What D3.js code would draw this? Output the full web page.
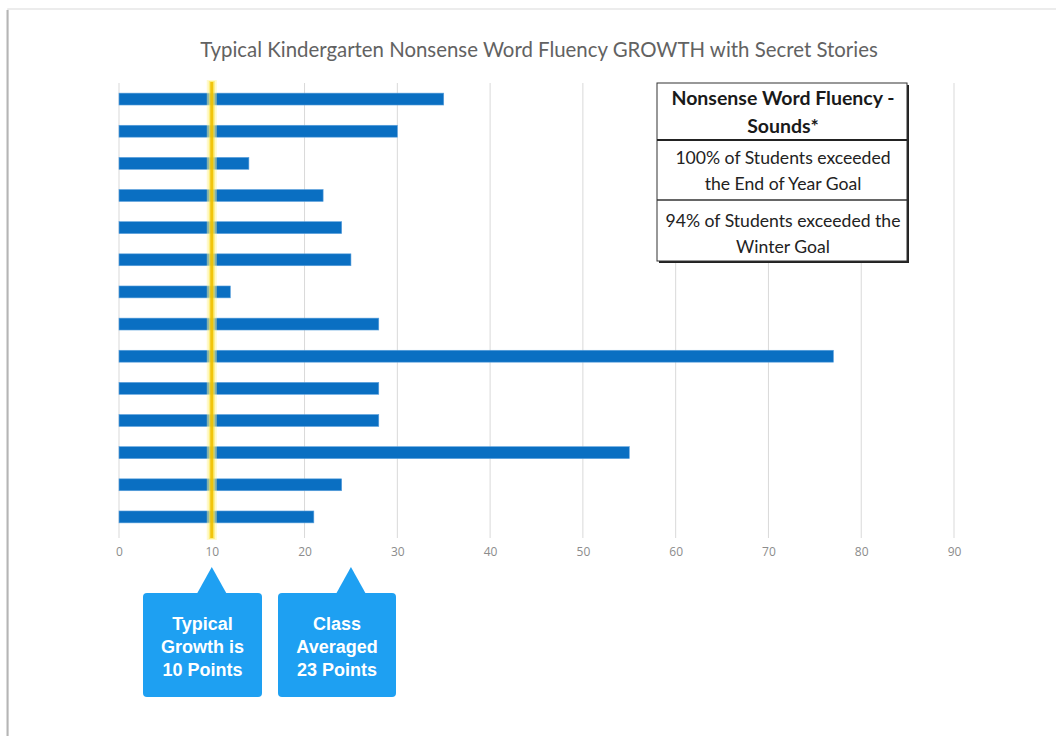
<!DOCTYPE html>
<html>
<head>
<meta charset="utf-8">
<script src="https://cdn.jsdelivr.net/npm/d3@7"></script>
<style>
  body { margin: 0; background: #fff; }
  svg { display: block; }
</style>
</head>
<body>
<svg id="chart"></svg>
<script>
// data
const students = ["S1","S2","S3","S4","S5","S6","S7","S8","S9","S10","S11","S12","S13","S14"];
const growth = [35, 30, 14, 22, 24, 25, 12, 28, 77, 28, 28, 55, 24, 21];
const xTicks = [0, 10, 20, 30, 40, 50, 60, 70, 80, 90];
const typicalGrowth = 10;
const classAverage = 23;
const titleText = "Typical Kindergarten Nonsense Word Fluency GROWTH with Secret Stories";
const tableHeader = ["Nonsense Word Fluency -", "Sounds*"];
const tableRows = [
  ["100% of Students exceeded", "the End of Year Goal"],
  ["94% of Students exceeded the", "Winter Goal"]
];
const calloutTexts = [
  ["Typical", "Growth is", "10 Points"],
  ["Class", "Averaged", "23 Points"]
];

const dimensions = {
  width: 1056,
  height: 736
};

var svg = d3.select("#chart")
  .attr("width", dimensions.width)
  .attr("height", dimensions.height);

// page frame (screenshot edge)
svg.append("path")
  .attr("d", "M8,736 L8,9 L1056,9")
  .attr("fill", "none")
  .attr("stroke", "#e6e6e6")
  .attr("stroke-width", 1.5);
svg.append("line")
  .attr("x1", 7.5).attr("x2", 7.5).attr("y1", 10).attr("y2", 736)
  .attr("stroke", "#b5b5b5").attr("stroke-width", 2);

// title
svg.append("text")
  .attr("x", 539)
  .attr("y", 57)
  .attr("text-anchor", "middle")
  .attr("font-family", "Lato, 'Open Sans', sans-serif")
  .attr("font-size", 20.4)
  .attr("fill", "#626262")
  .text(titleText);

var xScale = d3.scaleLinear()
  .domain([0, 90])
  .range([119, 954]);

var yScale = d3.scaleBand()
  .domain(students)
  .range([83, 533])
  .paddingInner(0.63)
  .paddingOuter(0.315);

// gridlines
svg.append("g")
  .selectAll("line")
  .data(xTicks)
  .enter()
  .append("line")
  .attr("x1", d => xScale(d))
  .attr("x2", d => xScale(d))
  .attr("y1", 83)
  .attr("y2", 538)
  .attr("stroke", "#d9d9d9")
  .attr("stroke-width", 1);

// tick labels via axis
var axis = svg.append("g")
  .attr("transform", "translate(0,538)")
  .call(d3.axisBottom(xScale).tickValues(xTicks).tickSize(0).tickPadding(9));
axis.select(".domain").remove();
axis.selectAll("text")
  .attr("font-family", "'Open Sans', sans-serif")
  .attr("font-size", 12)
  .attr("fill", "#8c8c8c");

// bars
svg.append("g")
  .selectAll("rect")
  .data(growth)
  .enter()
  .append("rect")
  .attr("x", xScale(0))
  .attr("y", (d, i) => yScale(students[i]))
  .attr("width", d => xScale(d) - xScale(0))
  .attr("height", yScale.bandwidth())
  .attr("fill", "#0a6fc2")
  .attr("stroke", "#5aa0dc")
  .attr("stroke-width", 0.6);

// typical growth highlight line
var gx = xScale(typicalGrowth);
svg.append("rect")
  .attr("x", gx - 5).attr("y", 80)
  .attr("width", 10).attr("height", 460)
  .attr("fill", "#fff59a").attr("opacity", 0.5);
svg.append("rect")
  .attr("x", gx - 3).attr("y", 81)
  .attr("width", 6).attr("height", 458)
  .attr("fill", "#fbe64a").attr("opacity", 0.6);
svg.append("rect")
  .attr("x", gx - 1.5).attr("y", 82)
  .attr("width", 3).attr("height", 456)
  .attr("fill", "#f0c000").attr("opacity", 0.9);

// info table
var tb = { x: 657, y: 83, w: 250, rows: [83, 140, 200, 261] };
var table = svg.append("g");
table.append("rect")
  .attr("x", tb.x + 2).attr("y", tb.y + 2)
  .attr("width", tb.w).attr("height", tb.rows[3] - tb.y)
  .attr("fill", "#222");
table.append("rect")
  .attr("x", tb.x).attr("y", tb.y)
  .attr("width", tb.w).attr("height", tb.rows[3] - tb.y)
  .attr("fill", "#fff")
  .attr("stroke", "#333")
  .attr("stroke-width", 1);
table.append("line")
  .attr("x1", tb.x).attr("x2", tb.x + tb.w)
  .attr("y1", tb.rows[1]).attr("y2", tb.rows[1])
  .attr("stroke", "#222").attr("stroke-width", 2);
table.append("line")
  .attr("x1", tb.x).attr("x2", tb.x + tb.w)
  .attr("y1", tb.rows[2]).attr("y2", tb.rows[2])
  .attr("stroke", "#333").attr("stroke-width", 1.3);

var cx = tb.x + tb.w / 2 + 1;
table.selectAll("text.h")
  .data(tableHeader)
  .enter()
  .append("text")
  .attr("class", "h")
  .attr("x", cx)
  .attr("y", (d, i) => 105 + i * 28)
  .attr("text-anchor", "middle")
  .attr("font-family", "Lato, 'Open Sans', sans-serif")
  .attr("font-weight", "bold")
  .attr("font-size", 19.5)
  .attr("fill", "#1a1a1a")
  .text(d => d);

tableRows.forEach(function (row, r) {
  table.selectAll("text.r" + r)
    .data(row)
    .enter()
    .append("text")
    .attr("class", "r" + r)
    .attr("x", cx)
    .attr("y", (d, i) => (r === 0 ? 164 : 227) + i * 26)
    .attr("text-anchor", "middle")
    .attr("font-family", "Lato, 'Open Sans', sans-serif")
    .attr("font-size", 17.6)
    .attr("fill", "#222")
    .text(d => d);
});

// callouts under the axis
var callouts = [
  { value: typicalGrowth, x0: 143, x1: 262, lines: calloutTexts[0] },
  { value: 25, x0: 278, x1: 396, lines: calloutTexts[1] }
];
callouts.forEach(function (c) {
  var px = xScale(c.value);
  var g = svg.append("g");
  g.append("rect")
    .attr("x", c.x0).attr("y", 593)
    .attr("width", c.x1 - c.x0).attr("height", 104)
    .attr("rx", 4)
    .attr("fill", "#1ea0f2");
  g.append("path")
    .attr("d", "M" + (px - 15) + ",594 L" + px + ",567 L" + (px + 15) + ",594 Z")
    .attr("fill", "#1ea0f2");
  g.selectAll("text")
    .data(c.lines)
    .enter()
    .append("text")
    .attr("x", (c.x0 + c.x1) / 2)
    .attr("y", (d, i) => 630 + i * 23)
    .attr("text-anchor", "middle")
    .attr("font-family", "'Liberation Sans', Arial, sans-serif")
    .attr("font-weight", "bold")
    .attr("font-size", 18)
    .attr("fill", "#fff")
    .text(d => d);
});
</script>
</body>
</html>
